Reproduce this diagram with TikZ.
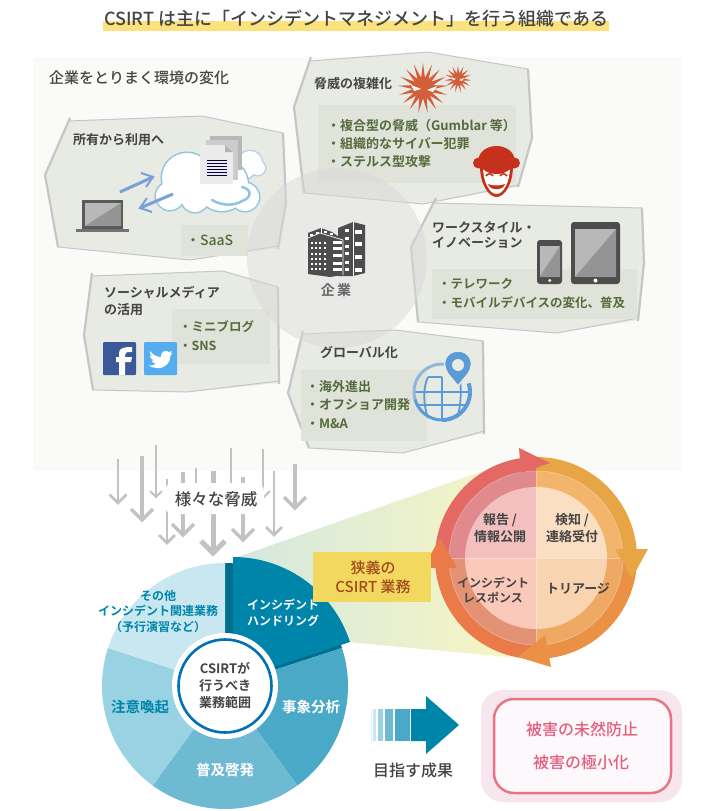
\documentclass[tikz,border=0pt]{standalone}
\usepackage{fontspec}
\usetikzlibrary{shapes.geometric,calc}
\setmainfont{Noto Sans CJK JP}[UprightFont=* Medium,BoldFont=* Bold]
\definecolor{txtdark}{HTML}{444444}
\definecolor{olive}{HTML}{566B3B}
\definecolor{panelfill}{HTML}{E8EAE4}
\definecolor{panelin}{HTML}{E0E3DA}
\definecolor{panelline}{HTML}{C6C6C6}
\definecolor{bgpale}{HTML}{FAFAF8}
\definecolor{teal}{HTML}{0085AA}
\definecolor{tealdk}{HTML}{006F8E}
\definecolor{teala}{HTML}{4AA9C6}
\definecolor{tealb}{HTML}{6FBAD3}
\definecolor{tealc}{HTML}{98D2E3}
\definecolor{teald}{HTML}{C9E7F1}
\definecolor{arrowgray}{HTML}{C2C2C2}
\definecolor{iconblue}{HTML}{7B9FD8}
\definecolor{cloudblue}{HTML}{8FC4DF}
\definecolor{cloudback}{HTML}{C3CFE8}
\definecolor{globeblue}{HTML}{5B9BD8}
\definecolor{globelt}{HTML}{8DB7DC}
\definecolor{iconred}{HTML}{C5311B}
\definecolor{virus}{HTML}{D25F3A}
\definecolor{devdark}{HTML}{4D4D4D}
\definecolor{fbblue}{HTML}{3B5998}
\definecolor{twblue}{HTML}{55ACEE}
\definecolor{titlehl}{HTML}{FBE27D}
\definecolor{wedgea}{HTML}{D3E8E0}
\definecolor{wedgeb}{HTML}{EFF3CC}
\definecolor{wedgec}{HTML}{FBF7C0}
\definecolor{labelyel}{HTML}{F3D860}
\definecolor{labeltxt}{HTML}{A0491B}
\definecolor{boxout}{HTML}{F8E6EE}
\definecolor{boxin}{HTML}{FDF8FC}
\definecolor{boxline}{HTML}{E87585}
\definecolor{boxtxt}{HTML}{E35F7D}
\newcommand{\fsz}[1]{\fontsize{#1}{#1}\selectfont}
\tikzset{
  x=1pt,y=-1pt,
  lbl/.style={inner sep=0pt,outer sep=0pt,align=center},
  head/.style={lbl,anchor=west,align=left,text=txtdark,font=\fsz{13}\bfseries},
  itemtxt/.style={lbl,anchor=west,align=left,text=olive,font=\fsz{13}\bfseries},
  pfill/.style={fill=panelfill},
  pthin/.style={draw=panelline,line width=1pt,line join=round},
  pthick/.style={draw=panelline,line width=2.2pt,line join=round},
  pinner/.style={fill=panelin},
  garr/.style={draw=arrowgray},
  blarr/.style={draw=iconblue,line width=3pt},
}
% gray down arrow: id, x, y start, y end, width, head size
\newcommand{\grayarrow}[6]{%
  \coordinate (g#1s) at (#2,#3);
  \coordinate (g#1e) at (#2,#4);
  \draw[garr,line width=#5pt] (g#1s) -- (g#1e);
  \draw[garr,line width=#5pt] (g#1e) +(-#6,-#6) -- (g#1e) -- +(#6,-#6);
}
\newcommand{\qsec}[4]{\fill[#4] (0,0) -- (#1:#3) arc[start angle=#1,end angle=#2,radius=#3] -- cycle;}
\begin{document}
\begin{tikzpicture}
\useasboundingbox (0,0) rectangle (714,811);
\fill[white] (0,0) rectangle (714,811);
% title
\fill[titlehl] (103,21) rectangle (609,31);
\node[lbl,font=\fsz{18},text=txtdark] (title) at (356,19) {CSIRT は主に「インシデントマネジメント」を行う組織である};
% background
\fill[bgpale] (33,57) rectangle (682,471);
\node[lbl,anchor=west,font=\fsz{15},text=txtdark] (envhead) at (49,78) {企業をとりまく環境の変化};

% panel 1: cloud
\path[pfill] (68,121) -- (202,116) -- (283,133) -- (286,203) -- (278,248) -- (190,260) -- (58,247) -- (45,175) -- cycle;
\draw[pthin] (68,121) -- (202,116) -- (283,133);
\draw[pthin] (278,246) -- (190,260) -- (58,247);
\draw[pthick] (70,118) -- (45,175) -- (58,247);
\draw[pthick] (283,133) -- (286,203) -- (278,249);
\fill[pinner] (181,225) rectangle (248,256);

% panel 2: threats
\path[pfill] (310,61) -- (428,52) -- (528,69) -- (532,138) -- (518,187) -- (423,204) -- (304,193) -- (294,107) -- cycle;
\draw[pthin] (310,61) -- (428,52) -- (528,69);
\draw[pthin] (518,185) -- (423,204) -- (304,193);
\draw[pthick] (311,57) -- (294,107) -- (304,193);
\draw[pthick] (528,69) -- (532,138) -- (518,187);
\fill[pinner] (318,105) rectangle (516,183);

% panel 3: workstyle
\path[pfill] (434,203) -- (642,208) -- (644,263) -- (638,320) -- (557,333) -- (418,322) -- (411,247) -- cycle;
\draw[pthin] (434,203) -- (642,208);
\draw[pthin] (638,318) -- (557,333) -- (418,322);
\draw[pthick] (436,198) -- (411,247) -- (418,322);
\draw[pthick] (642,208) -- (644,263) -- (638,321);
\fill[pinner] (432,269) rectangle (637,319);

% panel 4: social
\path[pfill] (92,276) -- (223,271) -- (278,287) -- (279,383) -- (187,392) -- (93,390) -- (84,335) -- cycle;
\draw[pthin] (92,276) -- (223,271) -- (278,287);
\draw[pthin] (279,381) -- (187,392) -- (93,390);
\draw[pthick] (92,273) -- (84,335) -- (93,390);
\draw[pthick] (278,287) -- (279,384);
\fill[pinner] (172,309) rectangle (270,364);

% panel 5: global
\path[pfill] (302,334) -- (395,330) -- (483,341) -- (484,433) -- (403,453) -- (309,448) -- (288,393) -- cycle;
\draw[pthin] (302,334) -- (395,330) -- (483,341);
\draw[pthin] (484,431) -- (403,453) -- (309,448);
\draw[pthick] (303,331) -- (288,393) -- (309,448);
\draw[pthick] (483,341) -- (484,434);
\fill[pinner] (301,370) rectangle (427,441);

% enterprise circle
\fill[fill=black!15,opacity=.5] (337,258) circle[radius=90];
% building
\fill[devdark] (338,228) -- (353,222) -- (365,225) -- (365,273) -- (353,276) -- (338,276) -- cycle;
\fill[devdark] (308,233) -- (321,228) -- (332,232) -- (343,240) -- (343,275) -- (330,277) -- (308,274) -- cycle;
\draw[white,line width=.7pt] (308,238) -- (320,233) -- (343,240) -- (343,275);
\draw[white,line width=.7pt] (321,228) -- (321,233);
\draw[white,line width=.7pt] (353,222) -- (353,276);
\foreach \yy in {242,247,253,258,263,268} \foreach \xx in {311,315,319,324}
  \fill[white] (\xx,\yy) rectangle ++(2,2);
\foreach \yy in {241,247,254,262,268} \fill[white] (333,\yy) rectangle ++(9,2.5);
\foreach \yy in {229,237,245,252,261,268} \fill[white] (345,\yy) rectangle ++(4,2.5);
\foreach \yy in {230,242,255,268} \fill[white] (355,\yy) rectangle ++(7,4);
\foreach \xx/\yy in {310/234,316/232,324/231,330/233} \fill[white] (\xx,\yy) rectangle ++(3,2);
\node[lbl,font=\fsz{14}\bfseries,text=black!60] (kigyo) at (336,290) {企\,業};

% panel 1 content
\node[head] (p1h) at (73,140) {所有から利用へ};
\node[itemtxt,font=\fsz{14}] (p1a) at (186,240) {・SaaS};
% back cloud
\foreach \cx/\cy/\cr in {250/163/12,258/168/7,246/170/8} \draw[draw=cloudback,line width=3pt] (\cx,\cy) circle[radius=\cr];
\foreach \cx/\cy/\cr in {250/163/12,258/168/7,246/170/8} \fill[white] (\cx,\cy) circle[radius=\cr];
% main cloud
\foreach \cx/\cy/\cr in {187/178/25,170/196/14,195/198/14,222/185/26,245/197/14} \draw[draw=cloudblue,line width=3pt] (\cx,\cy) circle[radius=\cr];
\foreach \cx/\cy/\cr in {187/178/25,170/196/14,195/198/14,222/185/26,245/197/14} \fill[white] (\cx,\cy) circle[radius=\cr];
\draw[draw=cloudblue,line width=2.5pt,line cap=round] (212,200) .. controls (222,206) and (234,206) .. (242,201) .. controls (252,198) and (252,189) .. (242,187);
% documents
\fill[black!28] (210,136) rectangle (242,170);
\fill[black!20] (206,140) rectangle (238,180);
\fill[black!8] (200,145) -- (225,145) -- (233,152) -- (233,184) -- (200,184) -- cycle;
\fill[black!30] (225,145) -- (233,152) -- (225,152) -- cycle;
\foreach \yy in {160,163,166,169,172,175} \draw[draw=blue!30!black,line width=.9pt] (207,\yy) -- (227,\yy);
% cloud arrows
\coordinate (ca1s) at (120,192); \coordinate (ca1e) at (153,177);
\coordinate (ca2s) at (173,194); \coordinate (ca2e) at (140,208);
\draw[blarr] (ca1s) -- (ca1e);
\draw[draw=iconblue,line width=2pt] (141,173) -- (153,177) -- (146,187);
\draw[blarr] (ca2s) -- (ca2e);
\draw[draw=iconblue,line width=2pt] (152,212) -- (140,208) -- (147,198);
% laptop
\fill[fill=black!65] (82,200) rectangle (123,229);
\fill[black!28] (85,203) rectangle (121,226);
\fill[black!42] (121,203) -- (121,226) -- (85,226) -- cycle;
\fill[black!55] (76,229) rectangle (129,232);

% panel 2 content
\node[head] (p2h) at (314,84) {脅威の複雑化};
\node[star,star points=17,star point ratio=2.4,minimum size=50pt,inner sep=0pt,fill=virus] (virbig) at (423,88) {};
\node[star,star points=15,star point ratio=2.4,minimum size=27pt,inner sep=0pt,fill=virus] (virsmall) at (458,79) {};
\fill[white] (411,85) -- (421,89) -- (414,91) -- cycle;
\fill[white] (437,86) -- (427,90) -- (433,92) -- cycle;
\fill[white] (451,77) -- (456,79) -- (453,80) -- cycle;
\fill[white] (464,78) -- (459,80) -- (462,81) -- cycle;
\node[itemtxt] (p2a) at (327,126) {・複合型の脅威（Gumblar 等）};
\node[itemtxt] (p2b) at (327,144) {・組織的なサイバー犯罪};
\node[itemtxt] (p2c) at (327,162) {・ステルス型攻撃};
% mask
\fill[iconred] (480,166) .. controls (480,185) and (489,197) .. (496.5,197) .. controls (504,197) and (513,185) .. (513,166) -- cycle;
\fill[white] (483,166) .. controls (483,183) and (490,194) .. (496.5,194) .. controls (503,194) and (510,183) .. (510,166) -- cycle;
\fill[iconred] (496.5,160) ellipse[x radius=18,y radius=14];
\fill[iconred] (478.5,163) circle[radius=5.5];
\fill[iconred] (514.5,163) circle[radius=5.5];
\fill[iconred] (479,163) .. controls (490,168) and (503,168) .. (514,163) -- (514,168) .. controls (503,171) and (490,171) .. (479,168) -- cycle;
\draw[iconred,line width=1.5pt] (486,176) .. controls (488,173) and (491,173) .. (493,176);
\draw[iconred,line width=1.5pt] (500,176) .. controls (502,173) and (505,173) .. (507,176);
\fill[iconred] (488,184) .. controls (492,186) and (501,186) .. (505,184) .. controls (503,191) and (490,191) .. (488,184) -- cycle;

% panel 3 content
\node[head,font=\fontsize{13}{14.5}\selectfont\bfseries] (p3h) at (432,235) {ワークスタイル・\\イノベーション};
\node[itemtxt,font=\fsz{12.5}\bfseries] (p3a) at (438,284) {・テレワーク};
\node[itemtxt,font=\fsz{12.5}\bfseries] (p3b) at (438,303) {・モバイルデバイスの変化、普及};
% phone
\fill[devdark,rounded corners=3pt] (537,240) rectangle (562,284);
\fill[black!28] (539.5,246) rectangle (560,277);
\fill[black!42] (560,246) -- (560,277) -- (539.5,277) -- cycle;
\fill[white] (549.7,280.5) circle[radius=1.6];
% tablet
\fill[devdark,rounded corners=3pt] (571,222) rectangle (620,284);
\fill[black!28] (575,229) rectangle (616,277);
\fill[black!42] (616,229) -- (616,277) -- (575,277) -- cycle;
\fill[white] (595.5,280.5) circle[radius=2];

% panel 4 content
\node[head,font=\fontsize{13}{17}\selectfont\bfseries] (p4h) at (104,301) {ソーシャルメディア\\の活用};
\node[itemtxt,font=\fsz{12.5}\bfseries] (p4a) at (179,327) {・ミニブログ};
\node[itemtxt,font=\fsz{12.5}\bfseries] (p4b) at (179,346) {・SNS};
\fill[fbblue,rounded corners=1pt] (103,342) rectangle (136,375);
\fill[white] (119,375) -- (119,362) -- (116,362) -- (116,357) -- (119,357) -- (119,353) .. controls (119,348) and (124,347) .. (132,347) -- (132,352) .. controls (127,352) and (125,352) .. (125,355) -- (125,357) -- (132,357) -- (131,362) -- (125,362) -- (125,375) -- cycle;
\fill[twblue,rounded corners=1pt] (144,342) rectangle (177,375);
\fill[white] (150,351) .. controls (153,355) and (157,357) .. (161,357) .. controls (160,352) and (166,349) .. (169,352) -- (172,351) -- (170.5,353.5) -- (172.5,353) -- (170.5,355.5) .. controls (171,362) and (165,369) .. (157,368) .. controls (154,368) and (151,367) .. (149,365.5) .. controls (152,366) and (154,365) .. (156,363.5) .. controls (153.5,363.5) and (152,362) .. (151.5,360.5) -- (154,360.5) .. controls (151,359.5) and (150,357.5) .. (150,355.5) -- (152.5,356) .. controls (150,354.5) and (149.5,353) .. (150,351) -- cycle;

% panel 5 content
\node[head] (p5h) at (320,352) {グローバル化};
\node[itemtxt] (p5a) at (306,387) {・海外進出};
\node[itemtxt] (p5b) at (306,405) {・オフショア開発};
\node[itemtxt] (p5c) at (306,424) {・M\&A};
% globe
\begin{scope}[shift={(442,392)},x=1pt,y=1pt]
  \draw[globeblue,line width=1.8pt] (-28,0) -- (28,0);
  \draw[globeblue,line width=1.8pt] (0,15) -- (0,-29);
  \draw[globeblue,line width=1.8pt] (-24,-13) -- (24,-13);
  \draw[globeblue,line width=1.8pt] (-14,15) -- (0,15);
  \draw[globeblue,line width=1.8pt] (-14,15) .. controls (-19,5) and (-19,-12) .. (-14,-26);
  \draw[globeblue,line width=1.8pt] (15,26) .. controls (20,12) and (20,-12) .. (15,-26);
  \draw[globeblue,line width=4pt] (-90:28) arc[start angle=-90,end angle=18,radius=28];
  \draw[globeblue,line width=3pt] (-165:28) arc[start angle=-165,end angle=-90,radius=28];
  \draw[globelt,line width=3pt] (85:28) arc[start angle=85,end angle=195,radius=28];
\end{scope}
\fill[globeblue,draw=panelfill,line width=1.5pt] (458,386) -- (448,374) .. controls (440,362) and (447,351) .. (458,351) .. controls (469,351) and (476,362) .. (468,374) -- cycle;
\fill[panelfill] (458,365) circle[radius=6];

% gray arrows
\grayarrow{a}{118}{459}{503}{2.5}{8.5}
\grayarrow{b}{142}{456}{520}{3.5}{11}
\grayarrow{c}{156}{445}{497}{2}{6}
\grayarrow{d}{167}{479}{543}{2.5}{8}
\grayarrow{e}{183}{472}{535}{3.5}{11}
\grayarrow{f}{196}{468}{512}{2}{6}
\grayarrow{g}{213}{471}{553}{5}{12}
\grayarrow{h}{231}{448}{512}{2}{6}
\grayarrow{i}{243}{477}{540}{3.5}{11}
\grayarrow{j}{263}{449}{498}{2}{7}
\grayarrow{k}{274}{471}{535}{2.5}{8}
\grayarrow{l}{295}{464}{508}{3.5}{11}
\fill[white,rounded corners=8pt] (165,483) rectangle (264,514);
\node[lbl,font=\fsz{16.5},text=txtdark] (threats) at (216,499) {様々な脅威};

% gradient wedge
\shade[left color=wedgea,middle color=wedgeb,right color=wedgec]
  (232,559) -- (500,465) -- (540,470) -- (540,660) -- (348,642) -- cycle;

% main pie
\begin{scope}[shift={(225,686)},x=1pt,y=1pt]
  \qsec{18}{90}{123}{tealdk}
  \qsec{-54}{18}{123}{teala}
  \qsec{-126}{-54}{123}{tealb}
  \qsec{162}{234}{123}{tealc}
  \qsec{90}{162}{123}{teald}
  \begin{scope}[shift={(8,6)}]
    \qsec{18}{90}{123}{teal}
  \end{scope}
  \fill[white] (0,0) circle[radius=53];
  \draw[draw=teal!85!blue,line width=2.6pt] (0,0) circle[radius=46.5];
\end{scope}
\node[lbl,font=\fontsize{12}{15.5}\selectfont\bfseries,text=teal] (other) at (158,611.5) {その他\\インシデント関連業務\\（予行演習など）};
\node[lbl,font=\fontsize{12}{16}\selectfont\bfseries,text=white] (handling) at (283,613) {インシデント\\ハンドリング};
\node[lbl,font=\fontsize{13}{17}\selectfont\bfseries,text=txtdark] (centre) at (225,685.5) {CSIRTが\\行うべき\\業務範囲};
\node[lbl,font=\fsz{14.5}\bfseries,text=white] (analysis) at (311,707) {事象分析};
\node[lbl,font=\fsz{14.5}\bfseries,text=white] (enlight) at (225,770) {普及啓発};
\node[lbl,font=\fsz{14.5}\bfseries,text=teal] (alert) at (140,707) {注意喚起};

% right circle
\definecolor{qa}{HTML}{E8A546}\definecolor{qb}{HTML}{F2B56B}\definecolor{qc}{HTML}{FBDFC3}
\definecolor{ra}{HTML}{EA9145}\definecolor{rb}{HTML}{EEAA65}\definecolor{rc}{HTML}{F9D4B0}
\definecolor{sa}{HTML}{EA7A47}\definecolor{sb}{HTML}{E39275}\definecolor{sc}{HTML}{FBC9BA}
\definecolor{ta}{HTML}{E46863}\definecolor{tb}{HTML}{E08A8E}\definecolor{tc}{HTML}{F3BFBF}
\begin{scope}[shift={(536,558)},x=1pt,y=1pt]
  \qsec{0}{90}{101}{qa}\qsec{-90}{0}{101}{ra}\qsec{180}{270}{101}{sa}\qsec{90}{180}{101}{ta}
  \qsec{0}{90}{87}{qb}\qsec{-90}{0}{87}{rb}\qsec{180}{270}{87}{sb}\qsec{90}{180}{87}{tb}
  \qsec{0}{90}{71}{qc}\qsec{-90}{0}{71}{rc}\qsec{180}{270}{71}{sc}\qsec{90}{180}{71}{tc}
  \draw[white,opacity=.35,line width=.6pt] (0,0) circle[radius=87];
  \draw[white,opacity=.35,line width=.6pt] (-87,0) -- (87,0) (0,87) -- (0,-87);
\end{scope}
\fill[ta] (519,448) -- (550,463) -- (521,473) -- cycle;
\fill[qa] (615,549) -- (648,549) -- (632,578) -- cycle;
\fill[ra] (518,657) -- (545,635) -- (551,667) -- cycle;
\fill[sa] (440,538) -- (423,568) -- (457,568) -- cycle;
\node[lbl,font=\fontsize{13}{17}\selectfont\bfseries,text=txtdark] (q1) at (500,528.5) {報告 /\\情報公開};
\node[lbl,font=\fontsize{13}{17}\selectfont\bfseries,text=txtdark] (q2) at (572,528.5) {検知 /\\連絡受付};
\node[lbl,font=\fontsize{12}{14.5}\selectfont\bfseries,text=txtdark] (q3) at (493,590) {インシデント\\レスポンス};
\node[lbl,font=\fsz{13}\bfseries,text=txtdark] (q4) at (578,589) {トリアージ};
% narrow label
\fill[labelyel] (313,552) rectangle (431,602);
\node[lbl,font=\fontsize{15}{19}\selectfont,text=labeltxt] (narrow) at (373,577.5) {狭義の\\CSIRT 業務};

% big arrow
\fill[teal] (411,709) -- (426,709) -- (426,696) -- (459,725) -- (426,754) -- (426,741) -- (411,741) -- cycle;
\fill[teala] (395,709) rectangle (410,741);
\fill[tealb] (385,709) rectangle (393,741);
\fill[tealc] (378,709) rectangle (383,741);
\fill[teald] (373,709) rectangle (376,741);
\fill[teald!60!white] (371,709) rectangle (372,741);
\node[lbl,font=\fsz{16},text=txtdark] (goal) at (413,770) {目指す成果};

% result box
\fill[boxout,rounded corners=22pt] (481,690) rectangle (682,802);
\draw[draw=boxline,fill=boxin,line width=2.5pt,rounded corners=20pt] (494,699) rectangle (671,793);
\node[lbl,font=\fsz{16},text=boxtxt] (res1) at (582,729) {被害の未然防止};
\node[lbl,font=\fsz{16},text=boxtxt] (res2) at (581,762) {被害の極小化};
\end{tikzpicture}
\end{document}
